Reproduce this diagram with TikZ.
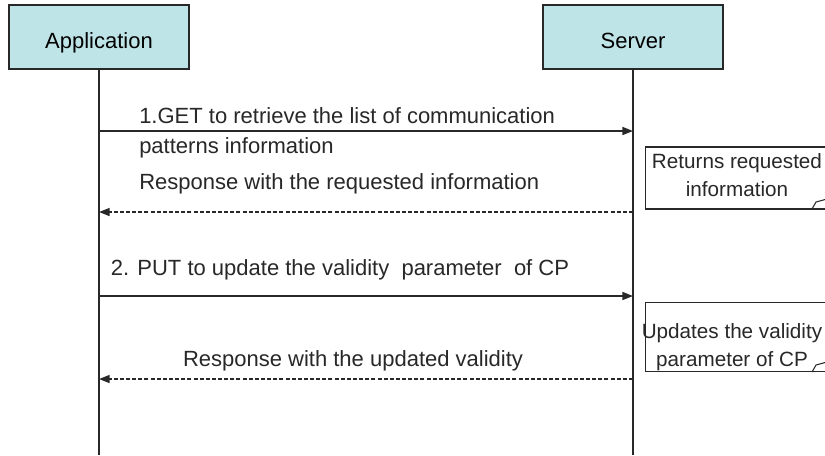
\documentclass[tikz,border=0pt]{standalone}
\usepackage{fontspec}
\setmainfont{Liberation Sans}
\usetikzlibrary{arrows.meta, positioning}

\definecolor{headfill}{RGB}{191,228,231}
\definecolor{inkgray}{RGB}{40,40,40}

\begin{document}
\begin{tikzpicture}[
    x=0.75pt, y=-0.75pt,
    actor/.style={draw=inkgray, fill=headfill, line width=0.8pt,
                  minimum width=135pt, minimum height=48pt, text height=20pt, text depth=3pt,
                  font=\fontsize{16.5}{20}\selectfont},
    note/.style={draw=inkgray, line width=0.8pt, minimum width=137pt},
    lbl/.style={font=\fontsize{16.5}{22.5}\selectfont, text=inkgray, inner sep=0pt},
    nlbl/.style={font=\fontsize{15.5}{21.5}\selectfont, text=inkgray, inner sep=0pt, align=center},
    life/.style={draw=inkgray, line width=0.8pt},
    req/.style={-{Triangle[length=8pt,width=6pt]}, line width=1.2pt, draw=inkgray},
    resp/.style={-{Triangle[length=8pt,width=6pt]}, line width=1.1pt, draw=inkgray,
                 dash pattern=on 3pt off 1.6pt},
    >=Stealth
  ]
    \clip (0,0) rectangle (825,455);
    \fill[white] (0,0) rectangle (825,455);

    % participants
    \node[actor] (app) at (99,37) {Application};
    \node[actor] (srv) at (633,37) {Server};
    \coordinate (appEnd) at (app.south |- 0,455);
    \coordinate (srvEnd) at (srv.south |- 0,455);
    \draw[life] (app.south) -- (appEnd);
    \draw[life] (srv.south) -- (srvEnd);

    % step 1
    \coordinate (getA) at (app.south |- 0,131);
    \coordinate (getB) at (srv.south |- 0,131);
    \draw[req] (getA) -- (getB);
    \node[lbl, align=left, anchor=west] (getlbl) at (139,133)
      {1.GET to retrieve the list of communication\\patterns information};
    \node[note, minimum height=46.5pt] (note1) at (737,178) {};
    \node[nlbl] (note1lbl) at (737,175) {Returns requested\\information};
    \draw[inkgray, line width=0.8pt] (812,209) -- (816,202) -- (827,199);
    \coordinate (rsp1B) at (srv.south |- 0,212);
    \coordinate (rsp1A) at (app.south |- 0,212);
    \draw[resp] (rsp1B) -- (rsp1A);
    \node[lbl, anchor=west] (rsp1lbl) at (139,184)
      {Response with the requested information};

    % step 2
    \coordinate (putA) at (app.south |- 0,296);
    \coordinate (putB) at (srv.south |- 0,296);
    \draw[req] (putA) -- (putB);
    \node[lbl] (putlbl) at (340,270)
      {2. PUT to update the validity \ parameter \ of CP};
    \node[note, minimum height=52pt] (note2) at (737,337) {};
    \node[nlbl] (note2lbl) at (732,347) {Updates the validity\\parameter of CP};
    \draw[inkgray, line width=0.8pt] (812,372) -- (816,365) -- (827,362);
    \coordinate (rsp2B) at (srv.south |- 0,379);
    \coordinate (rsp2A) at (app.south |- 0,379);
    \draw[resp] (rsp2B) -- (rsp2A);
    \node[lbl] (rsp2lbl) at (353,361)
      {Response with the updated validity};
  \end{tikzpicture}
\end{document}
